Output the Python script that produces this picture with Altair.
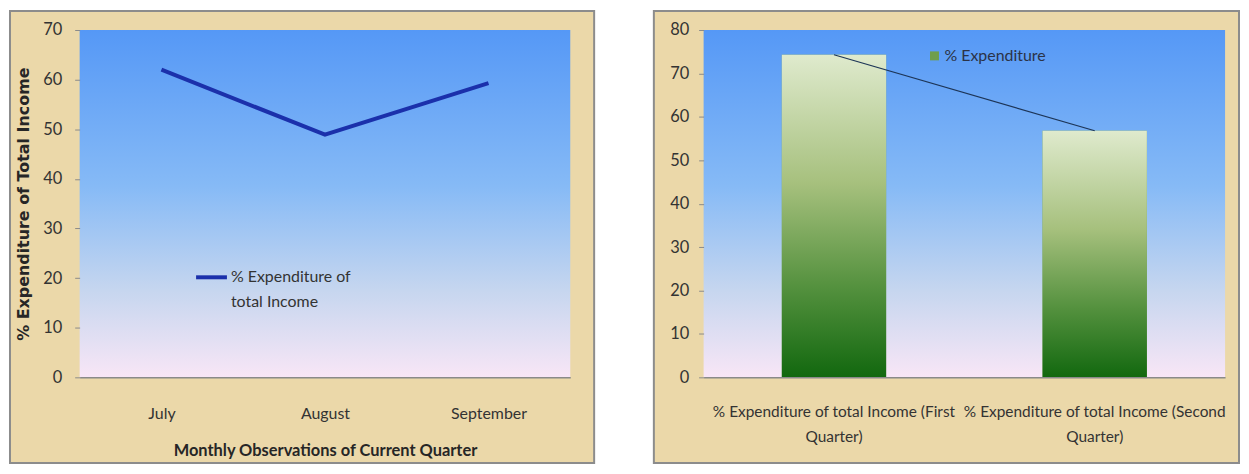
import altair as alt
import pandas as pd

# ---- data ----
months = ["July", "August", "September"]
month_values = [62.0, 48.9, 59.3]
line_series = "% Expenditure of total Income"

quarters = [
    "% Expenditure of total Income (First Quarter)",
    "% Expenditure of total Income (Second Quarter)",
]
quarter_values = [74.3, 56.8]
bar_series = "% Expenditure"

left_ticks = [0, 10, 20, 30, 40, 50, 60, 70]
right_ticks = [0, 10, 20, 30, 40, 50, 60, 70, 80]

df_left = pd.DataFrame({"month": months, "value": month_values, "series": line_series})
df_right = pd.DataFrame({"quarter": quarters, "value": quarter_values, "series": bar_series})

# ---- styling ----
WL, WR, H = 493, 524, 349
PARCH = "#ebd8a9"
FONT = "Lato"
LABEL_COLOR = "#333333"

sky = alt.Gradient(
    gradient="linear", x1=0, y1=0, x2=0, y2=1,
    stops=[
        alt.GradientStop(color="#5598f6", offset=0),
        alt.GradientStop(color="#86baf6", offset=0.45),
        alt.GradientStop(color="#c6d6ef", offset=0.75),
        alt.GradientStop(color="#f8e6f6", offset=1),
    ],
)
green = alt.Gradient(
    gradient="linear", x1=0, y1=0, x2=0, y2=1,
    stops=[
        alt.GradientStop(color="#dfeacd", offset=0),
        alt.GradientStop(color="#a6c07d", offset=0.4),
        alt.GradientStop(color="#54913e", offset=0.72),
        alt.GradientStop(color="#12680f", offset=1),
    ],
)

one = alt.Data(values=[{}])


def parchment(x0, x1):
    return alt.Chart(one).mark_rect(fill=PARCH, stroke="#8c8c8c", strokeWidth=2).encode(
        x=alt.value(x0), x2=alt.value(x1), y=alt.value(-19), y2=alt.value(H + 86)
    )


def plot_bg(w):
    return alt.Chart(one).mark_rect(fill=sky).encode(
        x=alt.value(0), x2=alt.value(w), y=alt.value(0), y2=alt.value(H)
    )


# ---- left panel ----
left_line = alt.Chart(df_left).mark_line(strokeWidth=4).encode(
    x=alt.X(
        "month:N", sort=months,
        axis=alt.Axis(
            title="Monthly Observations of Current Quarter", labelAngle=0, ticks=False,
            domainColor="#8a8a8a", domainWidth=1.5, labelPadding=28, labelFontSize=16,
            labelFont=FONT, labelColor=LABEL_COLOR, titleFont=FONT, titleFontSize=16.5,
            titleFontWeight="bold", titleColor="#262626", titlePadding=22, zindex=1,
        ),
    ),
    y=alt.Y(
        "value:Q", scale=alt.Scale(domain=[0, 70], nice=False),
        axis=alt.Axis(
            title="% Expenditure of Total Income", values=left_ticks, grid=False,
            domain=False, tickColor="#8a8a8a", tickSize=5, labelPadding=13,
            labelFontSize=16.5, labelFont=FONT, labelColor=LABEL_COLOR,
            titleFont="DejaVu Sans", titleFontSize=16, titleFontWeight="bold",
            titleColor="#262626", titlePadding=11, zindex=1,
        ),
    ),
    color=alt.Color(
        "series:N", scale=alt.Scale(domain=[line_series], range=["#1b30ab"]),
        legend=alt.Legend(
            title=None, orient="none", legendX=115, legendY=231, symbolType="stroke",
            symbolSize=961, symbolStrokeWidth=4, labelFont=FONT, labelFontSize=16,
            labelColor="#333333", labelOffset=2, labelLimit=0, padding=0, zindex=1,
            labelExpr="[substring(datum.label, 0, indexof(datum.label, ' total')), "
                      "substring(datum.label, indexof(datum.label, ' total') + 1)]",
        ),
    ),
)

left = alt.layer(parchment(-70, WL + 24), plot_bg(WL), left_line).properties(width=WL, height=H)

# ---- right panel ----
xq = alt.X(
    "quarter:N", sort=quarters,
    scale=alt.Scale(paddingInner=0.6, paddingOuter=0.3),
    axis=alt.Axis(
        title=None, labelAngle=0, ticks=False,
        domainColor="#8a8a8a", domainWidth=1.5, labelPadding=27, labelFontSize=15.5,
        labelFont=FONT, labelColor=LABEL_COLOR, labelLimit=0, labelLineHeight=25,
        labelExpr="indexof(datum.label, ' Quarter)') > 0 ? "
                  "[substring(datum.label, 0, indexof(datum.label, ' Quarter)')), 'Quarter)'] : ''",
        zindex=1,
    ),
)
yq = alt.Y(
    "value:Q", scale=alt.Scale(domain=[0, 80], nice=False),
    axis=alt.Axis(
        title=None, values=right_ticks, grid=False, domain=False, tickColor="#8a8a8a",
        tickSize=5, labelPadding=10, labelFontSize=16.5, labelFont=FONT,
        labelColor=LABEL_COLOR, zindex=1,
    ),
)

bars_legend = alt.Chart(df_right).mark_bar().encode(
    x=xq, y=yq,
    fill=alt.Fill(
        "series:N", scale=alt.Scale(domain=[bar_series], range=["#6f9e4c"]),
        legend=alt.Legend(
            title=None, orient="none", legendX=224, legendY=18, symbolType="square",
            symbolSize=81, symbolStrokeWidth=0, labelFont=FONT, labelFontSize=16,
            labelColor="#2b3347", labelOffset=2, padding=0, zindex=1,
        ),
    ),
)
bars_grad = alt.Chart(df_right).mark_bar(fill=green).encode(x=xq, y=yq)
top_line = alt.Chart(df_right).mark_line(color="#1d3557", strokeWidth=1.2).encode(x=xq, y=yq)

right = alt.layer(
    parchment(-50, WR + 14), plot_bg(WR), bars_legend, bars_grad, top_line
).properties(width=WR, height=H)

chart = (
    alt.hconcat(left, right, spacing=56)
    .resolve_legend(color="independent", fill="independent")
    .resolve_scale(color="independent", fill="independent")
    .properties(padding=0, background="white")
    .configure_view(stroke=None)
    .configure(style={"guide-label": {"lineHeight": 25}})
)

chart.save("out.html", embed_options={"renderer": "svg", "actions": False})
